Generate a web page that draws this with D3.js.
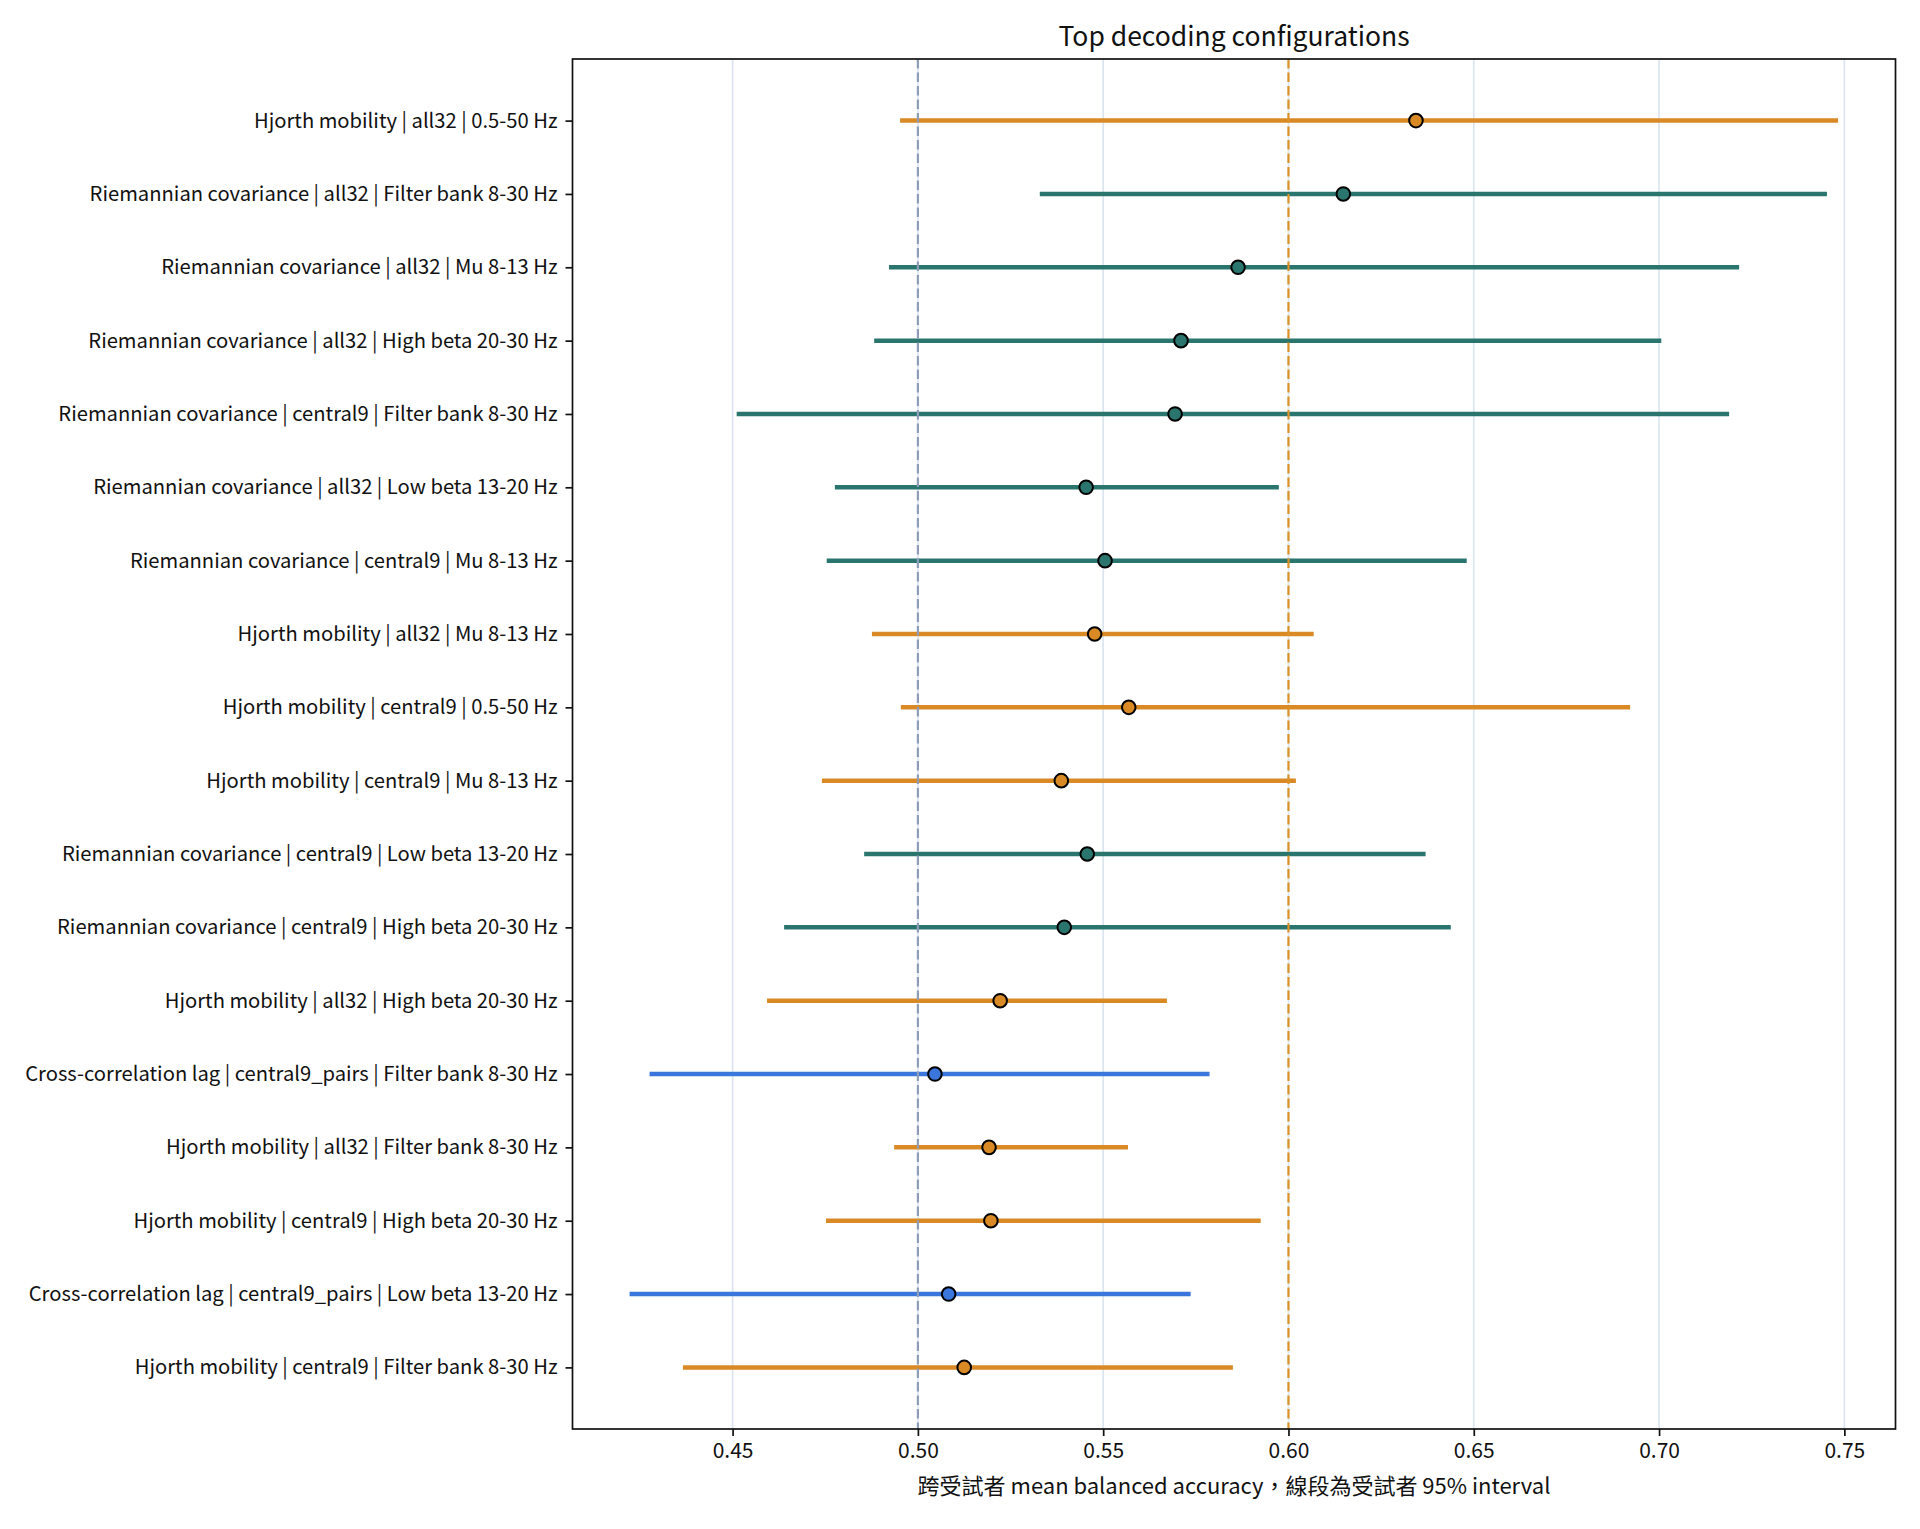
<!DOCTYPE html>
<html>
<head>
<meta charset="utf-8">
<script src="https://cdn.jsdelivr.net/npm/d3@7/dist/d3.min.js"></script>
<style>
  body { margin: 0; background: #fff; }
  svg text { font-family: "Noto Sans CJK TC", "Noto Sans", sans-serif; fill: #111; }
</style>
</head>
<body>
<div id="chart"></div>
<script>
// configurations, top to bottom
const labels = [
  "Hjorth mobility | all32 | 0.5-50 Hz",
  "Riemannian covariance | all32 | Filter bank 8-30 Hz",
  "Riemannian covariance | all32 | Mu 8-13 Hz",
  "Riemannian covariance | all32 | High beta 20-30 Hz",
  "Riemannian covariance | central9 | Filter bank 8-30 Hz",
  "Riemannian covariance | all32 | Low beta 13-20 Hz",
  "Riemannian covariance | central9 | Mu 8-13 Hz",
  "Hjorth mobility | all32 | Mu 8-13 Hz",
  "Hjorth mobility | central9 | 0.5-50 Hz",
  "Hjorth mobility | central9 | Mu 8-13 Hz",
  "Riemannian covariance | central9 | Low beta 13-20 Hz",
  "Riemannian covariance | central9 | High beta 20-30 Hz",
  "Hjorth mobility | all32 | High beta 20-30 Hz",
  "Cross-correlation lag | central9_pairs | Filter bank 8-30 Hz",
  "Hjorth mobility | all32 | Filter bank 8-30 Hz",
  "Hjorth mobility | central9 | High beta 20-30 Hz",
  "Cross-correlation lag | central9_pairs | Low beta 13-20 Hz",
  "Hjorth mobility | central9 | Filter bank 8-30 Hz"
];
const means = [0.6344, 0.6148, 0.5864, 0.5710, 0.5694, 0.5454, 0.5505, 0.5477, 0.5569,
               0.5387, 0.5457, 0.5395, 0.5222, 0.5046, 0.5192, 0.5197, 0.5083, 0.5125];
const lows  = [0.4952, 0.5329, 0.4922, 0.4882, 0.4511, 0.4776, 0.4754, 0.4876, 0.4954,
               0.4741, 0.4855, 0.4639, 0.4593, 0.4276, 0.4936, 0.4752, 0.4222, 0.4366];
const highs = [0.7483, 0.7453, 0.7216, 0.7006, 0.7189, 0.5974, 0.6481, 0.6068, 0.6922,
               0.6020, 0.6370, 0.6438, 0.5672, 0.5787, 0.5567, 0.5925, 0.5736, 0.5850];
const xTicks = [0.45, 0.50, 0.55, 0.60, 0.65, 0.70, 0.75];
const chanceLevel = 0.5;
const goalLevel = 0.6;

const methodColor = {
  "Hjorth mobility": "#d98a24",
  "Riemannian covariance": "#2a766f",
  "Cross-correlation lag": "#3b76dc"
};

const W = 1920, H = 1529;
const margin = { top: 59, right: 24.5, bottom: 100, left: 572.5 };
const fontFam = "'Noto Sans CJK TC', 'Noto Sans', sans-serif";

const svg = d3.select("#chart").append("svg")
  .attr("width", W)
  .attr("height", H);
svg.append("rect").attr("width", W).attr("height", H).attr("fill", "#fff");

const xScale = d3.scaleLinear()
  .domain([0.4068, 0.7638])
  .range([margin.left, W - margin.right]);
const yScale = d3.scaleLinear()
  .domain([-0.84, 17.84])
  .range([margin.top, H - margin.bottom]);

const x0 = margin.left, x1 = W - margin.right;
const y0 = margin.top, y1 = H - margin.bottom;

// grid
svg.append("g").selectAll("line")
  .data(xTicks)
  .join("line")
  .attr("x1", d => xScale(d)).attr("x2", d => xScale(d))
  .attr("y1", y0).attr("y2", y1)
  .attr("stroke", "#dce5ef")
  .attr("stroke-width", 1.7);

const rows = labels.map((l, i) => ({
  label: l, method: l.split(" | ")[0], mean: means[i], lo: lows[i], hi: highs[i], i: i
}));

// interval lines
svg.append("g").selectAll("line")
  .data(rows)
  .join("line")
  .attr("x1", d => xScale(d.lo)).attr("x2", d => xScale(d.hi))
  .attr("y1", d => yScale(d.i)).attr("y2", d => yScale(d.i))
  .attr("stroke", d => methodColor[d.method])
  .attr("stroke-width", 4.5);

// reference lines
svg.append("line")
  .attr("x1", xScale(chanceLevel)).attr("x2", xScale(chanceLevel))
  .attr("y1", y0).attr("y2", y1)
  .attr("stroke", "#8e9db8")
  .attr("stroke-width", 2.2)
  .attr("stroke-dasharray", "9.5,4");
svg.append("line")
  .attr("x1", xScale(goalLevel)).attr("x2", xScale(goalLevel))
  .attr("y1", y0).attr("y2", y1)
  .attr("stroke", "#dd9227")
  .attr("stroke-width", 2.2)
  .attr("stroke-dasharray", "9.5,4");

// means
svg.append("g").selectAll("circle")
  .data(rows)
  .join("circle")
  .attr("cx", d => xScale(d.mean))
  .attr("cy", d => yScale(d.i))
  .attr("r", 6.8)
  .attr("fill", d => methodColor[d.method])
  .attr("stroke", "#000")
  .attr("stroke-width", 2);

// frame
svg.append("rect")
  .attr("x", x0).attr("y", y0)
  .attr("width", x1 - x0).attr("height", y1 - y0)
  .attr("fill", "none")
  .attr("stroke", "#111")
  .attr("stroke-width", 1.7);

// x axis
const xAxis = d3.axisBottom(xScale)
  .tickValues(xTicks)
  .tickFormat(d3.format(".2f"))
  .tickSize(7)
  .tickPadding(7);
const gx = svg.append("g")
  .attr("transform", "translate(0," + y1 + ")")
  .call(xAxis);
gx.select(".domain").remove();
gx.selectAll(".tick line").attr("stroke", "#111").attr("stroke-width", 1.7);
gx.selectAll(".tick text").attr("font-size", 21).attr("fill", "#111")
  .style("font-family", fontFam);

// y axis
const yAxis = d3.axisLeft(yScale)
  .tickValues(d3.range(labels.length))
  .tickFormat(i => labels[i])
  .tickSize(7)
  .tickPadding(8);
const gy = svg.append("g")
  .attr("transform", "translate(" + x0 + ",0)")
  .call(yAxis);
gy.select(".domain").remove();
gy.selectAll(".tick line").attr("stroke", "#111").attr("stroke-width", 1.7);
gy.selectAll(".tick text").attr("font-size", 20.2).attr("fill", "#111")
  .style("font-family", fontFam);

// title and label
svg.append("text")
  .attr("x", (x0 + x1) / 2).attr("y", 46)
  .attr("text-anchor", "middle")
  .attr("font-size", 26.5)
  .text("Top decoding configurations");

svg.append("text")
  .attr("x", (x0 + x1) / 2).attr("y", 1494)
  .attr("text-anchor", "middle")
  .attr("font-size", 22)
  .text("跨受試者 mean balanced accuracy，線段為受試者 95% interval");
</script>
</body>
</html>
